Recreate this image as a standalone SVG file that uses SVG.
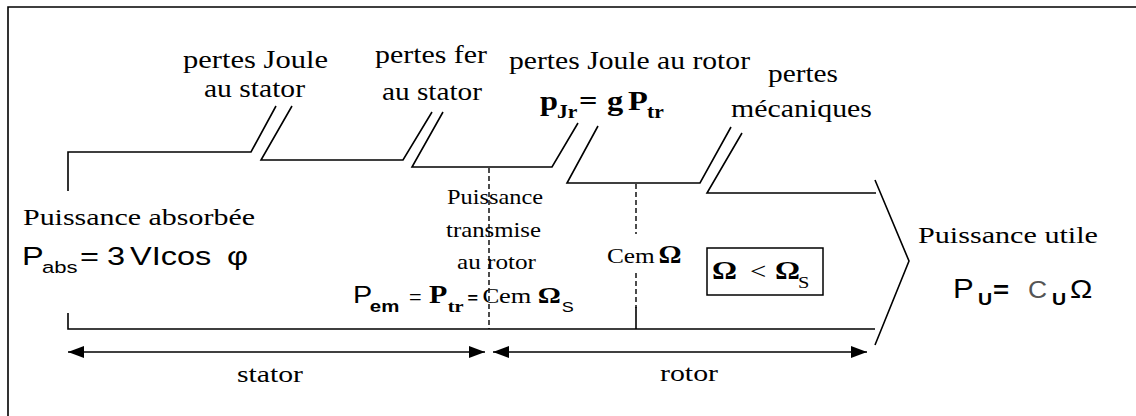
<svg xmlns="http://www.w3.org/2000/svg" width="1136" height="416" viewBox="0 0 1136 416">
<style>
.ln{fill:none;stroke:#000;stroke-width:1.6}
.ds{fill:none;stroke:#000;stroke-width:1.4;stroke-dasharray:5 3}
.t{font-family:"Liberation Serif","Times New Roman",serif;fill:#000}
.s{font-family:"Liberation Sans",Arial,sans-serif;fill:#000}
.b{font-weight:bold}
</style>
<defs>
<marker id="ah" viewBox="0 0 16 12" refX="16" refY="6" markerWidth="16" markerHeight="12" markerUnits="userSpaceOnUse" orient="auto-start-reverse">
<path d="M0,0 L16,6 L0,12 Z" fill="#000"/>
</marker>
</defs>
<rect width="1136" height="416" fill="#fff"/>
<g id="frame">
<path class="ln" d="M8,416 V7 H1136" stroke-width="2"/>
</g>
<g id="connectors">
<path class="ln" d="M68,191 V152 H251 L276,106"/>
<path class="ln" d="M292,106 L261,160 H403 L432,112"/>
<path class="ln" d="M443,112 L412,167 H552 L578,123"/>
<path class="ln" d="M598,126 L567,183 H700 L731,127"/>
<path class="ln" d="M742,133 L707,193 H876"/>
<path class="ln" d="M875,180 L909,261 L875,345"/>
<path class="ln" d="M68,313 V329 H875"/>
<path class="ds" d="M489,168 V329"/>
<path class="ds" d="M636,184 V234"/>
<path class="ds" d="M636,273 V308"/>
<path class="ln" d="M636,307 V329"/>
<path class="ln" d="M68,352 H485" marker-start="url(#ah)" marker-end="url(#ah)"/>
<path class="ln" d="M493,352 H867" marker-start="url(#ah)" marker-end="url(#ah)"/>
</g>
<g id="loss-joule-stator">
<text class="t" x="183" y="68" font-size="25" textLength="145" lengthAdjust="spacingAndGlyphs">pertes Joule</text>
<text class="t" x="204" y="97" font-size="25" textLength="101" lengthAdjust="spacingAndGlyphs">au stator</text>
</g>
<g id="loss-fer-stator">
<text class="t" x="375" y="63" font-size="25" textLength="112" lengthAdjust="spacingAndGlyphs">pertes fer</text>
<text class="t" x="382" y="100" font-size="25" textLength="100" lengthAdjust="spacingAndGlyphs">au stator</text>
</g>
<g id="loss-joule-rotor">
<text class="t" x="509" y="69" font-size="25" textLength="241" lengthAdjust="spacingAndGlyphs">pertes Joule au rotor</text>
<g transform="translate(540,110) scale(1.2,1)">
<text class="t b" font-size="27"><tspan x="0" y="0">p</tspan><tspan x="14.2" y="8" font-size="18">Jr</tspan><tspan x="32.5" y="0">=</tspan><tspan x="55.8" y="0">g</tspan><tspan x="73.3" y="0">P</tspan><tspan x="89.2" y="8" font-size="18">tr</tspan></text>
</g>
</g>
<g id="loss-mecaniques">
<text class="t" x="768" y="82" font-size="25" textLength="70" lengthAdjust="spacingAndGlyphs">pertes</text>
<text class="t" x="731" y="117" font-size="25" textLength="141" lengthAdjust="spacingAndGlyphs">mécaniques</text>
</g>
<g id="puissance-absorbee">
<text class="t" x="23" y="225" font-size="24" textLength="232" lengthAdjust="spacingAndGlyphs">Puissance absorbée</text>
<g transform="translate(22,265) scale(1.3,1)">
<text class="s" font-size="25"><tspan x="0" y="0">P</tspan><tspan x="15.4" y="8" font-size="17">abs</tspan><tspan x="44.6" y="0">=</tspan><tspan x="65.4" y="0">3</tspan><tspan x="83.1" y="0">VIcos</tspan><tspan x="157.7" y="0">φ</tspan></text>
</g>
</g>
<g id="puissance-transmise">
<text class="t" x="447" y="204" font-size="21" textLength="96" lengthAdjust="spacingAndGlyphs">Puissance</text>
<text class="t" x="446" y="237" font-size="21" textLength="95" lengthAdjust="spacingAndGlyphs">transmise</text>
<text class="t" x="457" y="269" font-size="21" textLength="79" lengthAdjust="spacingAndGlyphs">au rotor</text>
<g transform="translate(353,303) scale(1.2,1)">
<text font-size="24"><tspan class="s" x="0" y="0">P</tspan><tspan class="s b" x="14" y="9" font-size="17">em</tspan><tspan class="s" x="46.7" y="0" font-size="18">=</tspan><tspan class="t b" x="63.3" y="0" font-size="25">P</tspan><tspan class="t b" x="79" y="9" font-size="17">tr</tspan><tspan class="s b" x="95.5" y="0" font-size="15">=</tspan><tspan class="t" x="108" y="0" font-size="21">C</tspan><tspan class="t" x="121.7" y="0" font-size="22">em</tspan><tspan class="t b" x="154" y="0" font-size="24">Ω</tspan><tspan class="s" x="174" y="9" font-size="15">S</tspan></text>
</g>
</g>
<g id="couple-rotor">
<g transform="translate(607,263) scale(1.15,1)">
<text class="t" font-size="22"><tspan x="0" y="0">Cem</tspan><tspan class="b" x="44.8" y="0" font-size="25">Ω</tspan></text>
</g>
</g>
<g id="omega-box">
<rect x="707" y="248" width="116" height="47" fill="none" stroke="#000" stroke-width="1.5"/>
<g transform="translate(712,279) scale(1.2,1)">
<text class="t" font-size="24"><tspan class="b" x="0" y="0" font-size="26">Ω</tspan><tspan x="31.7" y="0">&lt;</tspan><tspan class="b" x="52.5" y="0" font-size="26">Ω</tspan><tspan x="71.7" y="9" font-size="17">S</tspan></text>
</g>
</g>
<g id="puissance-utile">
<text class="t" x="918" y="243" font-size="24" textLength="180" lengthAdjust="spacingAndGlyphs">Puissance utile</text>
<g transform="translate(953,298) scale(1.15,1)">
<text class="s" font-size="27"><tspan x="0" y="0">P</tspan><tspan class="b" x="21.7" y="7" font-size="17">U</tspan><tspan class="b" x="34.8" y="0" font-size="24">=</tspan><tspan x="65.2" y="0" font-size="23" fill="#555">C</tspan><tspan class="b" x="86" y="7" font-size="17">U</tspan><tspan x="101.7" y="0" font-size="26">Ω</tspan></text>
</g>
</g>
<g id="labels-zones">
<text class="t" x="237" y="382" font-size="24" textLength="66" lengthAdjust="spacingAndGlyphs">stator</text>
<text class="t" x="660" y="381" font-size="24" textLength="58" lengthAdjust="spacingAndGlyphs">rotor</text>
</g>
</svg>
